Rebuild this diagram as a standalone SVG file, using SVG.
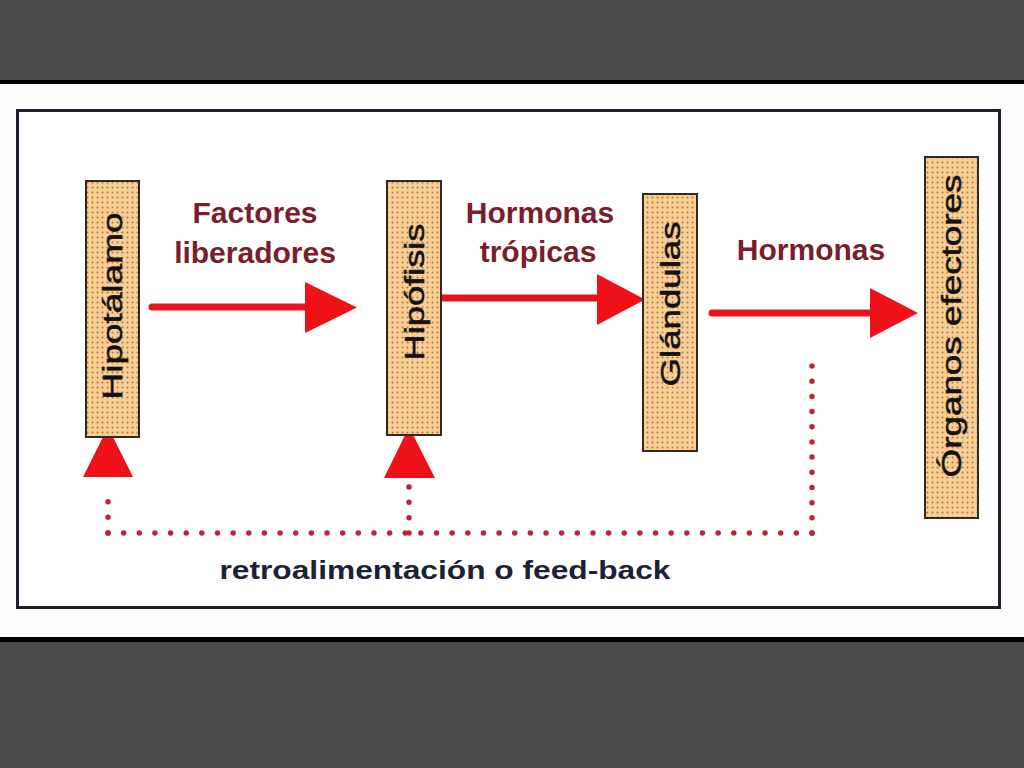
<svg xmlns="http://www.w3.org/2000/svg" width="1024" height="768" viewBox="0 0 1024 768">
<defs>
<pattern id="dots" x="0" y="0" width="5" height="5" patternUnits="userSpaceOnUse">
<rect width="5" height="5" fill="#f8cf90"/>
<circle cx="2.5" cy="2.5" r="1" fill="#b07058"/>
</pattern>
<style>
.box{fill:url(#dots);stroke:#2e2a22;stroke-width:2}
.boxtxt{font-family:"Liberation Sans",Arial,sans-serif;font-size:27px;fill:#111;stroke:#111;stroke-width:0.5;text-anchor:middle}
.lbl{font-family:"Liberation Sans",Arial,sans-serif;font-size:30px;font-weight:bold;fill:#7a1d2d;text-anchor:middle}
.fb{font-family:"Liberation Sans",Arial,sans-serif;font-size:26px;font-weight:bold;fill:#1c2233;text-anchor:middle}
.shaft{stroke:#e8141c;stroke-width:7;fill:none;stroke-linecap:round}
.head{fill:#ee1118}
.dot{stroke:#c3203a;stroke-width:5.5;fill:none;stroke-linecap:round}
</style>
</defs>
<rect x="0" y="0" width="1024" height="768" fill="#4a4a4a"/>
<rect x="0" y="80" width="1024" height="562" fill="#000"/>
<rect x="0" y="84" width="1024" height="553" fill="#fdfdfd"/>
<rect x="17.5" y="110.5" width="982" height="497" fill="#fff" stroke="#1e1e2c" stroke-width="3"/>

<g id="connectors">
<g id="arrow-factores">
<line class="shaft" x1="152" y1="307" x2="310" y2="307"/>
<polygon class="head" points="305,282 357,307.5 305,333"/>
</g>
<g id="arrow-tropicas">
<line class="shaft" x1="441" y1="298" x2="600" y2="298"/>
<polygon class="head" points="597,274 645,299.5 597,325"/>
</g>
<g id="arrow-hormonas">
<line class="shaft" x1="712" y1="313" x2="873" y2="313"/>
<polygon class="head" points="870,288 918,313 870,338"/>
</g>
<g id="feedback">
<line class="dot" x1="108" y1="533" x2="812" y2="533" stroke-dasharray="0 15.644"/>
<line class="dot" x1="812" y1="533" x2="812" y2="366" stroke-dasharray="0 15.18"/>
<line class="dot" x1="108" y1="533" x2="108" y2="486" stroke-dasharray="0 15.67"/>
<line class="dot" x1="409" y1="533" x2="409" y2="487" stroke-dasharray="0 15.33"/>
<polygon class="head" points="108,427 83,477 133,477"/>
<polygon class="head" points="409,427 384,478 435,478"/>
</g>
</g>

<g id="node-hipotalamo">
<rect class="box" x="86" y="181" width="53" height="256"/>
<text class="boxtxt" transform="translate(122,306) rotate(-90)" textLength="187" lengthAdjust="spacingAndGlyphs">Hipotálamo</text>
</g>
<g id="node-hipofisis">
<rect class="box" x="387" y="181" width="54" height="254"/>
<text class="boxtxt" transform="translate(424,292) rotate(-90)" textLength="137" lengthAdjust="spacingAndGlyphs">Hipófisis</text>
</g>
<g id="node-glandulas">
<rect class="box" x="643" y="194" width="54" height="257"/>
<text class="boxtxt" transform="translate(680,304) rotate(-90)" textLength="165" lengthAdjust="spacingAndGlyphs">Glándulas</text>
</g>
<g id="node-organos">
<rect class="box" x="925" y="157" width="53" height="361"/>
<text class="boxtxt" transform="translate(961,326) rotate(-90)" textLength="303" lengthAdjust="spacingAndGlyphs">Órganos efectores</text>
</g>

<g id="labels">
<text class="lbl" x="255" y="223">Factores</text>
<text class="lbl" x="255" y="263">liberadores</text>
<text class="lbl" x="540" y="223">Hormonas</text>
<text class="lbl" x="538" y="262">trópicas</text>
<text class="lbl" x="811" y="260">Hormonas</text>
<text class="fb" x="445" y="579" textLength="451" lengthAdjust="spacingAndGlyphs">retroalimentación o feed-back</text>
</g>
</svg>
